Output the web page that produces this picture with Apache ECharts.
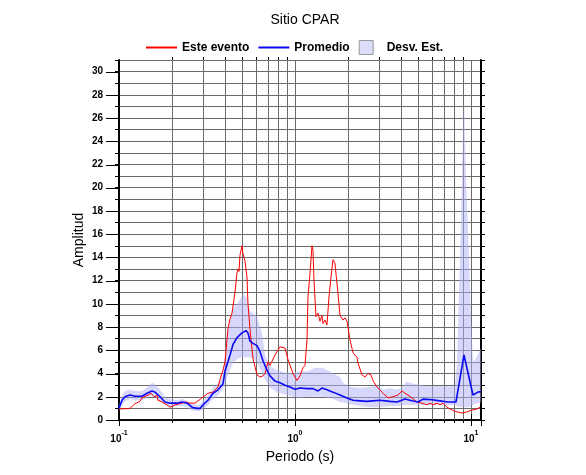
<!DOCTYPE html>
<html><head><meta charset="utf-8">
<script src="https://cdn.jsdelivr.net/npm/echarts@6/dist/echarts.min.js"></script>
<style>html,body{margin:0;padding:0;background:#fff}#c{width:586px;height:475px}</style>
</head><body><div id="c"></div>
<script>
const titleText = 'Sitio CPAR';
const xName = 'Periodo (s)';
const yName = 'Amplitud';
const legendNames = ['Este evento', 'Promedio', 'Desv. Est.'];
const yLabelValues = [0,2,4,6,8,10,12,14,16,18,20,22,24,26,28,30];
const xLabelExps = [-1, 0, 1];
const minorGridT = [0.2,0.3,0.4,0.5,0.6,0.7,0.8,0.9,2,3,4,5,6,7,8,9];

const eventT = [0.100,0.108,0.1155,0.1233,0.1316,0.1351,0.1461,0.1520,0.1581,0.1644,0.1665,0.1755,0.1874,0.1949,0.2080,0.2280,0.2371,0.2531,0.2702,0.2961,0.3204,0.3420,0.3652,0.3749,0.3899,0.4002,0.4163,0.4273,0.4386,0.4562,0.4684,0.4744,0.4806,0.4870,0.4999,0.5065,0.5199,0.5337,0.5407,0.5550,0.5772,0.6083,0.6326,0.6579,0.6754,0.7025,0.7211,0.7402,0.7698,0.8218,0.8774,0.9126,0.9742,1.0265,1.0676,1.1103,1.1398,1.1700,1.1854,1.2168,1.2491,1.2656,1.2822,1.3162,1.3512,1.3869,1.4052,1.4237,1.4424,1.4806,1.5199,1.5602,1.6016,1.6441,1.6877,1.7100,1.7553,1.8019,1.8741,1.9238,1.9749,2.0535,2.1356,2.2502,2.2798,2.4024,2.4986,2.5986,2.7026,2.7743,2.9233,3.0402,3.1623,3.3767,3.6051,3.8487,4.0552,4.2170,4.3856,4.6214,4.9348,5.2687,5.6234,5.8484,6.0827,6.4094,6.6667,6.9342,7.3050,7.7988,8.3263,8.8894,9.4903,10.132,10.816,11.249];
const eventA = [0.95,0.97,1.0,1.4,1.6,1.9,2.15,2.3,2.0,2.1,1.7,1.55,1.3,1.1,1.3,1.45,1.55,1.45,1.45,1.9,2.3,2.4,2.85,3.5,4.3,5.0,7.9,8.7,9.2,11.0,12.7,13.0,12.8,14.2,15.0,14.3,13.7,12.3,10.0,7.8,5.3,3.9,3.7,3.8,4.0,5.0,4.7,4.6,5.6,6.3,6.2,5.2,4.0,3.4,3.8,4.5,4.7,6.9,10.6,12.6,15.0,14.6,12.0,8.9,9.2,8.5,8.6,9.0,8.3,8.6,8.2,10.6,12.3,13.8,13.5,12.6,10.9,9.0,8.6,8.8,8.5,6.9,5.8,5.4,4.9,3.9,3.7,4.0,3.9,3.4,2.85,2.6,2.3,1.9,2.0,2.15,2.5,2.3,2.15,1.9,1.55,1.45,1.3,1.45,1.3,1.45,1.3,1.45,1.1,0.86,0.7,0.6,0.7,0.86,0.95,1.1];

const meanT = [0.1,0.104,0.1082,0.1155,0.1233,0.1351,0.1442,0.1540,0.1601,0.1710,0.1825,0.1949,0.2136,0.2280,0.2434,0.2598,0.2774,0.2885,0.3000,0.3204,0.3420,0.3652,0.3899,0.4002,0.4273,0.4444,0.4684,0.4999,0.5267,0.5407,0.5550,0.5772,0.6083,0.6326,0.6579,0.6933,0.7211,0.7698,0.8218,0.8774,0.9367,1.0,1.0676,1.1700,1.2656,1.3512,1.4237,1.5199,1.6441,1.8019,1.9749,2.1356,2.3403,2.5648,2.7743,3.0402,3.4662,3.7987,4.2170,4.6214,5.0,5.3380,6.0037,6.6667,7.4012,8.2180,9.1253,10.265,10.958,11.397];
const meanA = [1.0,1.7,2.0,2.15,2.05,2.05,2.3,2.5,2.4,2.0,1.55,1.45,1.45,1.55,1.45,1.1,1.0,1.0,1.3,1.7,2.3,2.6,3.1,4.2,5.6,6.5,7.1,7.5,7.7,7.5,6.8,6.6,6.4,5.9,5.1,4.3,3.8,3.35,3.2,3.0,2.85,2.65,2.75,2.7,2.7,2.5,2.75,2.6,2.4,2.15,1.9,1.7,1.65,1.6,1.65,1.7,1.6,1.55,1.8,1.65,1.55,1.8,1.75,1.65,1.55,1.55,5.6,2.15,2.4,2.45];

const bandT = [0.1,0.104,0.1082,0.1155,0.1233,0.1351,0.1442,0.1540,0.1601,0.1710,0.1825,0.1949,0.2136,0.2280,0.2434,0.2598,0.2774,0.2885,0.3000,0.3204,0.3420,0.3652,0.3899,0.4109,0.4273,0.4444,0.4744,0.5065,0.5337,0.5550,0.5772,0.6083,0.6494,0.6754,0.7211,0.7903,0.8774,0.9742,1.0676,1.1854,1.2991,1.4424,1.6441,1.8019,1.8741,2.0535,2.3403,2.6675,2.9233,3.1623,3.4662,3.7987,4.1085,4.2725,4.5020,5.1325,5.8484,6.9342,8.1113,8.3263,8.6596,8.8894,9.1253,9.3671,9.7416,10.0,10.265,10.676,11.397];
const bandLow = [0.8,1.3,1.6,1.8,1.7,1.7,1.9,2.1,2.0,1.6,1.3,1.2,1.2,1.2,1.1,0.8,0.75,0.75,0.9,1.3,1.8,2.1,2.7,3.6,4.3,4.9,5.3,5.4,5.4,5.4,5.3,5.0,4.0,3.5,2.8,2.4,2.2,2.0,1.9,2.0,2.0,2.0,1.8,1.55,1.5,1.35,1.2,1.1,1.1,1.15,1.2,1.2,1.25,1.3,1.3,1.3,1.3,1.3,1.3,1.2,1.1,1.1,1.1,1.1,1.1,1.2,1.3,1.4,1.5];
const bandHigh = [1.3,2.1,2.5,2.6,2.5,2.5,2.8,3.2,3.1,2.6,2.0,1.8,1.7,1.8,1.7,1.4,1.3,1.35,1.7,2.1,2.8,3.1,4.0,7.4,8.6,9.6,10.1,10.9,10.5,9.4,9.2,8.9,7.5,5.6,4.6,4.3,4.1,4.0,4.2,4.2,4.5,4.5,4.0,3.7,3.2,2.85,2.75,2.85,3.0,2.6,2.75,2.6,2.8,3.3,3.2,3.0,2.9,2.9,2.9,5.0,14.0,21.0,28.0,21.0,14.0,9.0,5.0,5.3,6.2];

const X_MIN = 0.1, X_MAX = 11.4, Y_MIN = 0, Y_MAX = 31;
const FONT = '"Liberation Sans", Arial, Helvetica, sans-serif';
const RED = '#ff0000', BLUE = '#0a0af5', BAND = 'rgba(175,175,250,0.5)', GRID = '#6a6a6a';

const zip = (a, b) => a.slice(0, Math.min(a.length, b.length)).map((v, i) => [v, b[i]]);

const chart = echarts.init(document.getElementById('c'), null, {renderer: 'canvas'});

function xLabel(v) {
  const l = Math.log10(v);
  const e = Math.round(l);
  if (Math.abs(l - e) < 1e-6 && xLabelExps.indexOf(e) >= 0) return '{b|10}{s|' + e + '}';
  return '';
}

const LINE_ICON = 'path://M0,0H31V2H0Z';

const option = {
  animation: false,
  backgroundColor: '#fff',
  title: {
    text: titleText, left: 300, top: 8, textAlign: 'center',
    textStyle: {fontFamily: FONT, fontSize: 14, fontWeight: 'normal', color: '#000'}
  },
  legend: {
    left: 141, top: 35, itemWidth: 31, itemHeight: 14, itemGap: 9,
    textStyle: {fontFamily: FONT, fontSize: 12, fontWeight: 'bold', color: '#000'},
    data: [
      {name: legendNames[0], icon: LINE_ICON},
      {name: legendNames[1], icon: LINE_ICON},
      {name: legendNames[2], icon: 'path://M0,0H10V10H0Z', itemStyle: {color: '#dcdcfb', borderColor: '#999', borderWidth: 1}}
    ]
  },
  grid: {left: 119, right: 105, top: 60, bottom: 55},
  xAxis: [
    {
      type: 'log', logBase: 10, min: X_MIN, max: X_MAX, position: 'bottom',
      name: xName, nameLocation: 'middle', nameGap: 30, nameMoveOverlap: false,
      nameTextStyle: {fontFamily: FONT, fontSize: 14, color: '#000'},
      axisLine: {show: true, lineStyle: {color: '#000', width: 1.5}},
      axisTick: {show: true, length: 6, lineStyle: {color: '#000'}},
      axisLabel: {
        formatter: xLabel, margin: 10,
        rich: {
          b: {fontFamily: FONT, fontSize: 10, fontWeight: 'bold', color: '#000', lineHeight: 14, verticalAlign: 'bottom'},
          s: {fontFamily: FONT, fontSize: 7, fontWeight: 'bold', color: '#000', lineHeight: 8, verticalAlign: 'top'}
        }
      },
      splitLine: {show: true, lineStyle: {color: GRID, width: 1}}
    },
    {
      type: 'log', logBase: 10, min: X_MIN, max: X_MAX, position: 'top',
      axisLine: {show: true, lineStyle: {color: '#000', width: 1.5}},
      axisTick: {show: true, length: 6, lineStyle: {color: '#000'}},
      axisLabel: {show: false},
      splitLine: {show: false}
    }
  ],
  yAxis: [
    {
      type: 'value', min: Y_MIN, max: Y_MAX, interval: 1, position: 'left',
      name: yName, nameLocation: 'middle', nameGap: 33, nameMoveOverlap: false,
      nameTextStyle: {fontFamily: FONT, fontSize: 14, color: '#000'},
      axisLine: {show: true, lineStyle: {color: '#000', width: 2}},
      axisTick: {show: true, length: 4, lineStyle: {color: '#000'}},
      axisLabel: {
        margin: 16, fontFamily: FONT, fontSize: 10, fontWeight: 'bold', color: '#000',
        formatter: v => (yLabelValues.indexOf(v) >= 0 ? String(v) : '')
      },
      splitLine: {show: true, lineStyle: {color: GRID, width: 1}}
    },
    {
      type: 'value', min: Y_MIN, max: Y_MAX, interval: 1, position: 'right',
      axisLine: {show: true, lineStyle: {color: '#000', width: 2}},
      axisTick: {show: true, length: 4, lineStyle: {color: '#000'}},
      axisLabel: {show: false},
      splitLine: {show: false}
    }
  ],
  series: [
    {
      name: 'minorGrid', type: 'custom', z: 1, silent: true, xAxisIndex: 0, yAxisIndex: 0,
      data: minorGridT.map(t => [t, 0]),
      renderItem: function (params, api) {
        const t = api.value(0);
        const p0 = api.coord([t, Y_MIN]);
        const p1 = api.coord([t, Y_MAX]);
        const x = Math.round(p0[0]) + 0.5;
        return {
          type: 'group',
          children: [
            {type: 'line', shape: {x1: x, y1: p0[1], x2: x, y2: p1[1]}, style: {stroke: GRID, lineWidth: 1}},
            {type: 'line', shape: {x1: x, y1: p0[1], x2: x, y2: p0[1] + 3}, style: {stroke: '#000', lineWidth: 1}},
            {type: 'line', shape: {x1: x, y1: p1[1], x2: x, y2: p1[1] - 3}, style: {stroke: '#000', lineWidth: 1}}
          ]
        };
      }
    },
    {
      name: 'majorYTicks', type: 'custom', z: 5, silent: true, xAxisIndex: 0, yAxisIndex: 0,
      data: yLabelValues.map(v => [X_MIN, v]),
      renderItem: function (params, api) {
        const p = api.coord([X_MIN, api.value(1)]);
        const y = Math.round(p[1]) + 0.5;
        return {type: 'line', shape: {x1: p[0] - 13, y1: y, x2: p[0], y2: y}, style: {stroke: '#000', lineWidth: 1}};
      }
    },
    {
      name: legendNames[2], type: 'custom', z: 2, silent: true, xAxisIndex: 0, yAxisIndex: 0,
      itemStyle: {color: '#dcdcfb'},
      encode: {x: 0, y: [1, 2]},
      data: bandT.map((t, i) => [t, bandLow[i], bandHigh[i]]),
      renderItem: function (params, api) {
        if (params.dataIndex !== 0) return null;
        const n = Math.min(bandT.length, bandLow.length, bandHigh.length);
        const pts = [];
        for (let i = 0; i < n; i++) pts.push(api.coord([bandT[i], bandHigh[i]]));
        for (let i = n - 1; i >= 0; i--) pts.push(api.coord([bandT[i], bandLow[i]]));
        return {type: 'polygon', shape: {points: pts}, style: {fill: BAND, stroke: null}};
      }
    },
    {
      name: legendNames[0], type: 'line', z: 3, showSymbol: false, symbol: 'none',
      xAxisIndex: 0, yAxisIndex: 0,
      lineStyle: {color: RED, width: 1}, itemStyle: {color: RED},
      data: zip(eventT, eventA)
    },
    {
      name: legendNames[1], type: 'line', z: 4, showSymbol: false, symbol: 'none',
      xAxisIndex: 0, yAxisIndex: 0,
      lineStyle: {color: BLUE, width: 1.6}, itemStyle: {color: BLUE},
      data: zip(meanT, meanA)
    }
  ]
};
chart.setOption(option);
</script>
</body></html>
